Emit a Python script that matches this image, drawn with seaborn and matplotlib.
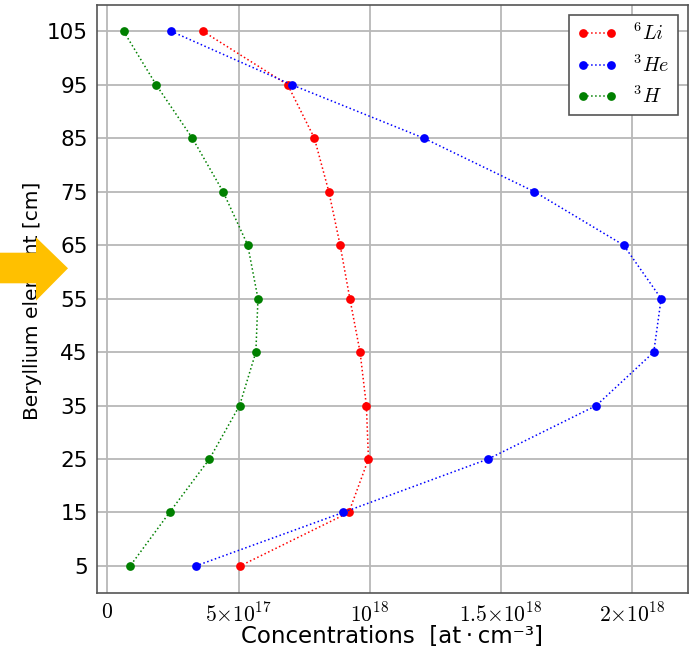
import numpy as np
import pandas as pd
import seaborn as sns
import matplotlib
matplotlib.use("Agg")
import matplotlib.pyplot as plt
from matplotlib.patches import Polygon

# ---- data ----
heights = [105, 95, 85, 75, 65, 55, 45, 35, 25, 15, 5]
li6 = [3.64, 6.87, 7.89, 8.44, 8.87, 9.24, 9.63, 9.87, 9.95, 9.20, 5.06]      # x 1e17
he3 = [2.43, 7.02, 12.06, 16.27, 19.67, 21.10, 20.82, 18.63, 14.51, 8.98, 3.37]
h3 = [0.62, 1.86, 3.24, 4.41, 5.35, 5.74, 5.66, 5.04, 3.89, 2.37, 0.87]
series_labels = [r'$^6Li$', r'$^3He$', r'$^3H$']
series_colors = ['red', 'blue', 'green']
xtick_vals = [0, 5e17, 1e18, 1.5e18, 2e18]
xtick_labels = [r'$0$', r'$5{\times}10^{17}$', r'$10^{18}$',
                r'$1.5{\times}10^{18}$', r'$2{\times}10^{18}$']
ytick_vals = [5, 15, 25, 35, 45, 55, 65, 75, 85, 95, 105]

sns.set_style("white")
plt.rcParams['font.family'] = ['DejaVu Sans']
plt.rcParams['mathtext.fontset'] = 'cm'
plt.rcParams['text.color'] = 'black'
plt.rcParams['axes.labelcolor'] = 'black'
plt.rcParams['xtick.color'] = 'black'
plt.rcParams['ytick.color'] = 'black'

W, H = 692, 653
fig = plt.figure(figsize=(W / 100, H / 100), dpi=100)
left, right, top, bottom = 96.7, 688, 4.5, 592.7
ax = fig.add_axes([left / W, 1 - bottom / H, (right - left) / W, (bottom - top) / H])

for vals, lab, col in zip([li6, he3, h3], series_labels, series_colors):
    df = pd.DataFrame({'conc': np.array(vals) * 1e17, 'height': heights})
    sns.lineplot(data=df, x='conc', y='height', sort=False, estimator=None,
                 color=col, marker='o', linestyle=':', linewidth=1.1,
                 markersize=6.3, markeredgewidth=0, label=lab, ax=ax)

ax.set_xticks(xtick_vals)
ax.set_xticklabels(xtick_labels, fontsize=15.5)
ax.set_yticks(ytick_vals)
ax.set_yticklabels([str(v) for v in ytick_vals], fontsize=15.5)
ax.set_ylim(0, 110)
ax.margins(x=0.05)

ax.grid(True, color='#b8b8b8', linewidth=1.3)
ax.set_axisbelow(True)
for s in ax.spines.values():
    s.set_color('#555555')
    s.set_linewidth(1.2)
ax.tick_params(axis='both', direction='out', length=2.5, width=1.2, color='#333333', pad=4)

ax.set_xlabel('Concentrations  [at\u2009\u00b7\u2009cm\u207b\u00b3]', fontsize=16.5)
ax.set_ylabel('Beryllium element [cm]', fontsize=14.5)
ax.yaxis.set_label_coords((41.7 - left) / (right - left), (bottom - 300.5) / (bottom - top))
ax.xaxis.set_label_coords(0.5, -(625 - bottom) / (bottom - top))

leg = ax.legend(loc='upper right', numpoints=2, fancybox=False, framealpha=1,
                edgecolor='#555555', fontsize=14.5, handlelength=2.0)
leg.get_frame().set_linewidth(1.2)

# orange arrow overlay (pixel coordinates from top-left)
pts = [(0, 252.7), (36, 252.7), (36, 237.3), (68, 268.3), (36, 300.7), (36, 283.3), (0, 283.3)]
poly = Polygon([(x / W, 1 - y / H) for x, y in pts], closed=True,
               transform=fig.transFigure, facecolor='#FFC000', edgecolor='none', zorder=10)
fig.add_artist(poly)

fig.savefig('out.png', dpi=100)
